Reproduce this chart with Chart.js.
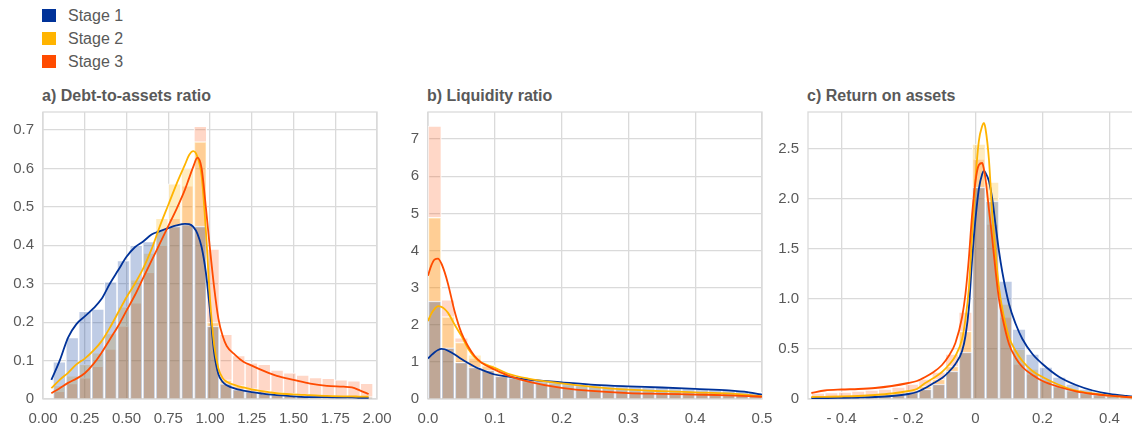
<!DOCTYPE html>
<html>
<head>
<meta charset="utf-8">
<script src="https://cdn.jsdelivr.net/npm/chart.js@4.4.1/dist/chart.umd.min.js"></script>
<style>
  html, body { margin: 0; padding: 0; background: #fff; width: 1132px; height: 424px; overflow: hidden; }
  body { position: relative; font-family: "Liberation Sans", Arial, sans-serif; color: #595959; }
  .key { position: absolute; left: 42px; height: 14px; font-size: 16px; line-height: 14px; }
  .key i { position: absolute; left: 0; top: 0; width: 14px; height: 13px; }
  .key span { position: absolute; left: 26px; top: 0; white-space: nowrap; }
  .title { position: absolute; top: 87px; font-size: 16px; font-weight: bold; white-space: nowrap; }
  canvas { position: absolute; top: 104px; }
</style>
</head>
<body>
<div class="key" style="top:9px"><i style="background:#003299"></i><span>Stage 1</span></div>
<div class="key" style="top:32px"><i style="background:#FFB400"></i><span>Stage 2</span></div>
<div class="key" style="top:55px"><i style="background:#FF4B00"></i><span>Stage 3</span></div>

<div class="title" style="left:42px">a) Debt-to-assets ratio</div>
<div class="title" style="left:427px">b) Liquidity ratio</div>
<div class="title" style="left:807px">c) Return on assets</div>

<canvas id="chartA" width="395" height="320" style="left:0px"></canvas>
<canvas id="chartB" width="395" height="320" style="left:385px"></canvas>
<canvas id="chartC" width="396" height="320" style="left:765px"></canvas>

<script>
// ── Panel a: debt-to-assets ratio ────────────────────────────
const binsA = [0.098, 0.175, 0.252, 0.328, 0.405, 0.482, 0.558, 0.635, 0.712, 0.788, 0.865, 0.942, 1.018,
               1.095, 1.172, 1.248, 1.325, 1.402, 1.478, 1.555, 1.632, 1.708, 1.785, 1.862, 1.938];
const histA1 = [0.097, 0.16, 0.228, 0.234, 0.305, 0.36, 0.40, 0.41, 0.44, 0.45, 0.455, 0.45, 0.19,
                0.04, 0.025, 0.02, 0.015, 0.012, 0.01, 0.008, 0.006, 0.005, 0.005, 0.004, 0.004];
const histA2 = [0.035, 0.06, 0.09, 0.12, 0.17, 0.24, 0.31, 0.38, 0.47, 0.56, 0.60, 0.67, 0.20,
                0.05, 0.035, 0.027, 0.022, 0.018, 0.015, 0.012, 0.01, 0.009, 0.008, 0.007, 0.006];
const histA3 = [0.02, 0.04, 0.055, 0.085, 0.13, 0.19, 0.25, 0.33, 0.40, 0.47, 0.555, 0.71, 0.39,
                0.168, 0.113, 0.094, 0.09, 0.075, 0.068, 0.062, 0.056, 0.054, 0.05, 0.047, 0.041];
const kdeXA = [0.05, 0.1, 0.15, 0.2, 0.25, 0.3, 0.35, 0.4, 0.45, 0.5, 0.55, 0.6, 0.65, 0.7, 0.75, 0.8, 0.85,
               0.875, 0.9, 0.925, 0.95, 0.975, 1.0, 1.025, 1.05, 1.075, 1.1, 1.15, 1.2, 1.25, 1.3, 1.35, 1.4,
               1.5, 1.6, 1.7, 1.8, 1.85, 1.9, 1.95];
const kdeA1 = [0.05, 0.10, 0.16, 0.195, 0.215, 0.235, 0.26, 0.30, 0.335, 0.37, 0.395, 0.41, 0.428, 0.437, 0.445, 0.452, 0.456,
               0.455, 0.448, 0.43, 0.395, 0.33, 0.23, 0.12, 0.065, 0.045, 0.036, 0.027, 0.022, 0.018, 0.015, 0.012, 0.01,
               0.007, 0.005, 0.005, 0.004, 0.004, 0.003, 0.003];
const kdeA2 = [0.028, 0.05, 0.068, 0.09, 0.105, 0.125, 0.15, 0.185, 0.225, 0.265, 0.30, 0.34, 0.39, 0.45, 0.505, 0.56, 0.61,
               0.635, 0.645, 0.63, 0.58, 0.44, 0.26, 0.14, 0.08, 0.055, 0.045, 0.036, 0.03, 0.025, 0.021, 0.018, 0.015,
               0.012, 0.01, 0.008, 0.007, 0.007, 0.006, 0.006];
const kdeA3 = [0.015, 0.028, 0.042, 0.053, 0.067, 0.09, 0.12, 0.155, 0.19, 0.23, 0.27, 0.315, 0.36, 0.405, 0.45, 0.495, 0.545,
               0.575, 0.605, 0.628, 0.60, 0.50, 0.39, 0.29, 0.21, 0.165, 0.138, 0.115, 0.097, 0.087, 0.077, 0.068, 0.06,
               0.05, 0.04, 0.034, 0.032, 0.03, 0.022, 0.013];
const xTicksA = [0, 0.25, 0.5, 0.75, 1.0, 1.25, 1.5, 1.75, 2.0];
const xLabelsA = ['0.00', '0.25', '0.50', '0.75', '1.00', '1.25', '1.50', '1.75', '2.00'];
const yTicksA = [0, 0.1, 0.2, 0.3, 0.4, 0.5, 0.6, 0.7];
const yLabelsA = ['0', '0.1', '0.2', '0.3', '0.4', '0.5', '0.6', '0.7'];

// ── Panel b: liquidity ratio ─────────────────────────────────
const binsB = [0.01, 0.03, 0.05, 0.07, 0.09, 0.11, 0.13, 0.15, 0.17, 0.19, 0.21, 0.23, 0.25,
               0.27, 0.29, 0.31, 0.33, 0.35, 0.37, 0.39, 0.41, 0.43, 0.45, 0.47, 0.49];
const histB1 = [2.64, 1.38, 0.99, 0.86, 0.78, 0.62, 0.58, 0.52, 0.48, 0.45, 0.42, 0.40, 0.38,
                0.36, 0.35, 0.34, 0.33, 0.32, 0.30, 0.29, 0.28, 0.27, 0.25, 0.22, 0.18];
const histB2 = [4.89, 2.22, 1.53, 1.19, 0.92, 0.72, 0.60, 0.52, 0.46, 0.42, 0.38, 0.35, 0.32,
                0.30, 0.28, 0.26, 0.24, 0.23, 0.21, 0.20, 0.19, 0.18, 0.16, 0.14, 0.11];
const histB3 = [7.35, 2.67, 1.65, 1.10, 0.88, 0.65, 0.55, 0.46, 0.40, 0.35, 0.31, 0.28, 0.26,
                0.24, 0.22, 0.20, 0.19, 0.18, 0.17, 0.16, 0.15, 0.14, 0.13, 0.11, 0.08];
const kdeXB = [0, 0.005, 0.01, 0.015, 0.02, 0.025, 0.03, 0.04, 0.05, 0.06, 0.07, 0.08, 0.1, 0.12, 0.15,
               0.2, 0.25, 0.3, 0.35, 0.4, 0.45, 0.48, 0.5];
const kdeB1 = [1.09, 1.18, 1.26, 1.32, 1.35, 1.34, 1.30, 1.20, 1.08, 0.97, 0.87, 0.79, 0.66, 0.60, 0.52,
               0.45, 0.38, 0.34, 0.31, 0.27, 0.23, 0.18, 0.12];
const kdeB2 = [2.10, 2.30, 2.43, 2.50, 2.48, 2.42, 2.32, 2.00, 1.70, 1.36, 1.12, 0.98, 0.84, 0.68, 0.55,
               0.42, 0.32, 0.25, 0.21, 0.18, 0.15, 0.11, 0.07];
const kdeB3 = [3.32, 3.60, 3.76, 3.78, 3.65, 3.41, 3.10, 2.35, 1.78, 1.42, 1.15, 0.98, 0.79, 0.63, 0.47,
               0.30, 0.21, 0.16, 0.14, 0.12, 0.10, 0.08, 0.06];
const xTicksB = [0, 0.1, 0.2, 0.3, 0.4, 0.5];
const xLabelsB = ['0.0', '0.1', '0.2', '0.3', '0.4', '0.5'];
const yTicksB = [0, 1, 2, 3, 4, 5, 6, 7];
const yLabelsB = ['0', '1', '2', '3', '4', '5', '6', '7'];

// ── Panel c: return on assets ────────────────────────────────
const binsC = [-0.47, -0.43, -0.39, -0.35, -0.31, -0.27, -0.23, -0.19, -0.15, -0.11, -0.07, -0.03, 0.01,
               0.05, 0.09, 0.13, 0.17, 0.21, 0.25, 0.29, 0.33, 0.37, 0.41, 0.45, 0.49];
const histC1 = [0.01, 0.012, 0.015, 0.02, 0.025, 0.03, 0.045, 0.07, 0.10, 0.15, 0.28, 0.47, 2.12,
                1.98, 1.18, 0.70, 0.45, 0.32, 0.22, 0.15, 0.10, 0.07, 0.05, 0.03, 0.02];
const histC2 = [0.02, 0.02, 0.025, 0.03, 0.04, 0.05, 0.07, 0.09, 0.13, 0.20, 0.33, 0.68, 2.55,
                2.17, 0.95, 0.50, 0.30, 0.20, 0.13, 0.09, 0.06, 0.04, 0.03, 0.02, 0.015];
const histC3 = [0.06, 0.065, 0.07, 0.08, 0.09, 0.10, 0.12, 0.15, 0.20, 0.27, 0.45, 0.87, 2.40,
                1.75, 0.82, 0.35, 0.25, 0.18, 0.12, 0.08, 0.06, 0.04, 0.03, 0.02, 0.015];
const kdeXC = [-0.49, -0.45, -0.4, -0.35, -0.3, -0.25, -0.2, -0.175, -0.15, -0.125, -0.1, -0.08, -0.06, -0.04,
               -0.03, -0.02, -0.01, 0, 0.01, 0.02, 0.025, 0.03, 0.04, 0.05, 0.06, 0.07, 0.08, 0.1, 0.12, 0.14,
               0.17, 0.2, 0.25, 0.3, 0.35, 0.4, 0.45, 0.5];
const kdeC1 = [0.01, 0.01, 0.012, 0.015, 0.02, 0.03, 0.05, 0.07, 0.11, 0.16, 0.21, 0.27, 0.35, 0.48,
               0.63, 0.90, 1.40, 1.80, 2.10, 2.25, 2.28, 2.26, 2.18, 2.00, 1.74, 1.48, 1.27, 0.95, 0.75, 0.60,
               0.45, 0.35, 0.22, 0.14, 0.085, 0.05, 0.03, 0.015];
const kdeC2 = [0.02, 0.022, 0.025, 0.03, 0.04, 0.055, 0.08, 0.10, 0.16, 0.21, 0.27, 0.34, 0.43, 0.60,
               0.80, 1.10, 1.65, 2.20, 2.58, 2.73, 2.76, 2.70, 2.40, 1.85, 1.45, 1.12, 0.90, 0.62, 0.48, 0.38,
               0.28, 0.22, 0.14, 0.083, 0.055, 0.033, 0.02, 0.012];
const kdeC3 = [0.06, 0.085, 0.095, 0.10, 0.11, 0.13, 0.16, 0.18, 0.22, 0.27, 0.34, 0.43, 0.56, 0.82,
               1.05, 1.40, 1.85, 2.18, 2.34, 2.36, 2.30, 2.20, 1.90, 1.60, 1.28, 1.00, 0.82, 0.55, 0.41, 0.32,
               0.24, 0.18, 0.12, 0.077, 0.05, 0.033, 0.02, 0.012];
const xTicksC = [-0.4, -0.2, 0, 0.2, 0.4];
const xLabelsC = ['- 0.4', '- 0.2', '0', '0.2', '0.4'];
const yTicksC = [0, 0.5, 1.0, 1.5, 2.0, 2.5];
const yLabelsC = ['0', '0.5', '1.0', '1.5', '2.0', '2.5'];

// ── Shared styling ───────────────────────────────────────────
const COLORS = ['#003299', '#FFB400', '#FF4B00'];
const FILLS = ['rgba(0,50,153,0.25)', 'rgba(255,180,0,0.25)', 'rgba(255,75,0,0.22)'];
const GRID = '#dadada';
const TEXT = '#595959';
const FONT = { family: "'Liberation Sans', Arial, sans-serif", size: 15 };

const frame = {
  id: 'frame',
  beforeDatasetsDraw(chart) {
    const a = chart.chartArea, ctx = chart.ctx;
    ctx.save();
    ctx.strokeStyle = GRID;
    ctx.lineWidth = 1.3;
    ctx.strokeRect(a.left, a.top, a.right - a.left, a.bottom - a.top);
    ctx.restore();
  }
};

function zip(xs, ys) {
  return xs.map((x, i) => ({ x: x, y: ys[i] }));
}

function makePanel(id, p) {
  const bars = p.hists.map((h, i) => ({
    type: 'bar',
    data: zip(p.bins, h),
    backgroundColor: FILLS[i],
    borderColor: 'rgba(255,255,255,0.85)',
    borderWidth: 1,
    borderSkipped: 'bottom',
    barPercentage: 1,
    categoryPercentage: 1,
    grouped: false,
    order: 3 + i   // stage 3 at the back, stage 1 in front
  }));
  const lines = p.kdes.map((k, i) => ({
    type: 'line',
    data: zip(p.kdeX, k),
    borderColor: COLORS[i],
    borderWidth: 1.8,
    pointRadius: 0,
    fill: false,
    cubicInterpolationMode: 'monotone',
    order: 2 - i
  }));

  new Chart(document.getElementById(id), {
    type: 'bar',
    data: { datasets: bars.concat(lines) },
    options: {
      responsive: false,
      animation: false,
      events: [],
      layout: { padding: { top: 8, right: 18, left: 0, bottom: 0 } },
      plugins: { legend: { display: false }, tooltip: { enabled: false } },
      scales: {
        x: {
          type: 'linear',
          offset: false,
          min: p.xMin,
          max: p.xMax,
          grid: { color: GRID, lineWidth: 1.3, offset: false, drawTicks: false },
          border: { display: false },
          ticks: {
            color: TEXT, font: FONT, padding: 11, maxRotation: 0, autoSkip: false,
            callback: (v, i) => p.xLabels[i]
          },
          afterBuildTicks: s => { s.ticks = p.xTicks.map(v => ({ value: v })); },
          // fixed axis box: no extra room for the end labels
          afterFit: s => { s.height = 25; s.paddingLeft = 0; s.paddingRight = 0; }
        },
        y: {
          min: 0,
          max: p.yMax,
          grid: { color: GRID, lineWidth: 1.3, drawTicks: false },
          border: { display: false },
          ticks: {
            color: TEXT, font: FONT, padding: 9, autoSkip: false,
            callback: (v, i) => p.yLabels[i]
          },
          afterBuildTicks: s => { s.ticks = p.yTicks.map(v => ({ value: v })); },
          afterFit: s => { s.width = 43; s.paddingTop = 0; s.paddingBottom = 0; }
        }
      }
    },
    plugins: [frame]
  });
}

makePanel('chartA', {
  bins: binsA, hists: [histA1, histA2, histA3],
  kdeX: kdeXA, kdes: [kdeA1, kdeA2, kdeA3],
  xMin: 0, xMax: 2.0, yMax: 0.747,
  xTicks: xTicksA, xLabels: xLabelsA, yTicks: yTicksA, yLabels: yLabelsA
});

makePanel('chartB', {
  bins: binsB, hists: [histB1, histB2, histB3],
  kdeX: kdeXB, kdes: [kdeB1, kdeB2, kdeB3],
  xMin: 0, xMax: 0.5, yMax: 7.73,
  xTicks: xTicksB, xLabels: xLabelsB, yTicks: yTicksB, yLabels: yLabelsB
});

makePanel('chartC', {
  bins: binsC, hists: [histC1, histC2, histC3],
  kdeX: kdeXC, kdes: [kdeC1, kdeC2, kdeC3],
  xMin: -0.5, xMax: 0.5, yMax: 2.87,
  xTicks: xTicksC, xLabels: xLabelsC, yTicks: yTicksC, yLabels: yLabelsC
});
</script>
</body>
</html>
